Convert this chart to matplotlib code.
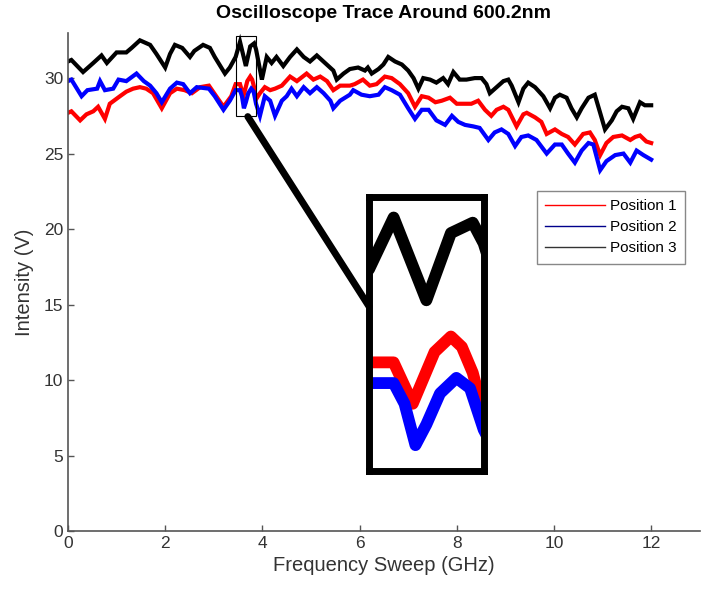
import matplotlib.pyplot as plt
from matplotlib.lines import Line2D
from matplotlib.patches import Rectangle, ConnectionPatch

plt.rcParams["font.family"] = ["Liberation Sans", "DejaVu Sans"]

# traces (GHz, V)
freq_1 = [0.0, 0.07, 0.25, 0.38, 0.52, 0.62, 0.76, 0.86, 1.07, 1.2, 1.34, 1.48, 1.61, 1.75,
          1.93, 2.1, 2.24, 2.4, 2.55, 2.72, 2.9, 3.05, 3.2, 3.36, 3.45, 3.54, 3.61, 3.69,
          3.75, 3.79, 3.83, 3.87, 3.95, 4.05, 4.16, 4.26, 4.4, 4.57, 4.71, 4.91, 5.05, 5.19,
          5.33, 5.46, 5.6, 5.8, 5.9, 6.07, 6.21, 6.35, 6.52, 6.66, 6.83, 7.0, 7.14, 7.28,
          7.42, 7.56, 7.69, 7.86, 8.0, 8.17, 8.3, 8.44, 8.58, 8.71, 8.82, 8.96, 9.06, 9.23,
          9.37, 9.44, 9.61, 9.74, 9.85, 10.02, 10.16, 10.29, 10.43, 10.6, 10.74, 10.84,
          10.95, 11.08, 11.22, 11.4, 11.57, 11.67, 11.77, 11.9, 12.0]
pos_1 = [27.7, 27.8, 27.2, 27.6, 27.8, 28.1, 27.3, 28.3, 28.8, 29.1, 29.3, 29.4, 29.3, 29.0,
         28.0, 29.0, 29.3, 29.2, 29.0, 29.4, 29.5, 28.8, 28.1, 28.8, 29.6, 29.6, 28.8, 29.8,
         30.1, 29.9, 29.4, 28.6, 29.0, 29.4, 29.2, 29.3, 29.5, 30.1, 29.8, 30.3, 29.9, 30.1,
         29.8, 29.2, 29.5, 29.5, 29.6, 29.9, 29.5, 29.6, 30.1, 30.0, 29.6, 29.0, 28.1, 28.8,
         28.7, 28.4, 28.5, 28.7, 28.3, 28.3, 28.3, 28.5, 27.9, 27.5, 27.9, 28.1, 27.9, 26.8,
         27.6, 27.7, 27.4, 27.1, 26.3, 26.6, 26.3, 26.1, 25.6, 26.3, 26.4, 25.9,
         24.9, 25.7, 26.1, 26.2, 25.9, 26.1, 26.2, 25.8, 25.7]

freq_2 = [0.0, 0.07, 0.28, 0.4, 0.6, 0.66, 0.76, 0.93, 1.04, 1.2, 1.41, 1.56, 1.69, 1.82,
          1.93, 2.1, 2.24, 2.37, 2.51, 2.65, 2.9, 3.02, 3.2, 3.33, 3.45, 3.54, 3.58, 3.62,
          3.66, 3.71, 3.77, 3.82, 3.87, 3.95, 4.05, 4.16, 4.26, 4.4, 4.5, 4.6, 4.71, 4.85,
          4.98, 5.12, 5.26, 5.4, 5.46, 5.6, 5.8, 5.87, 6.04, 6.21, 6.39, 6.52, 6.66, 6.83,
          7.0, 7.14, 7.28, 7.42, 7.58, 7.76, 7.9, 8.03, 8.17, 8.34, 8.47, 8.65, 8.78, 8.92,
          9.06, 9.2, 9.33, 9.47, 9.64, 9.85, 10.02, 10.16, 10.29, 10.43, 10.57, 10.71,
          10.81, 10.95, 11.08, 11.26, 11.43, 11.57, 11.7, 11.84, 12.0]
pos_2 = [29.8, 29.9, 28.8, 29.2, 29.3, 29.8, 29.2, 29.3, 29.9, 29.8, 30.3, 29.8, 29.5, 29.0,
         28.4, 29.3, 29.7, 29.6, 29.0, 29.4, 29.3, 28.8, 27.9, 28.5, 29.2, 29.2, 28.8, 28.0,
         28.4, 29.0, 29.3, 29.1, 28.3, 27.5, 28.8, 28.5, 27.5, 28.5, 28.8, 29.3, 28.8, 29.4,
         29.0, 29.4, 29.0, 28.5, 28.0, 28.5, 28.9, 29.2, 28.9, 28.8, 28.9, 29.4, 29.2, 28.9,
         28.0, 27.3, 27.9, 27.9, 27.2, 26.9, 27.5, 27.1, 26.9, 26.8, 26.7, 25.9, 26.4, 26.6,
         26.3, 25.5, 26.1, 26.2, 25.9, 25.0, 25.6, 25.6, 25.0, 24.4, 25.2, 25.7,
         25.6, 23.9, 24.5, 24.9, 25.0, 24.4, 25.2, 24.9, 24.6]

freq_3 = [0.0, 0.07, 0.31, 0.52, 0.69, 0.8, 1.0, 1.2, 1.31, 1.48, 1.69, 1.82, 2.0, 2.1, 2.2,
          2.35, 2.51, 2.6, 2.78, 2.92, 3.02, 3.23, 3.33, 3.45, 3.54, 3.66, 3.75, 3.83, 3.87,
          3.99, 4.09, 4.19, 4.29, 4.43, 4.57, 4.71, 4.85, 4.98, 5.12, 5.29, 5.46, 5.53, 5.67,
          5.8, 5.97, 6.11, 6.17, 6.25, 6.39, 6.49, 6.59, 6.73, 6.87, 7.0, 7.11, 7.21, 7.31,
          7.45, 7.58, 7.72, 7.82, 7.93, 8.06, 8.2, 8.37, 8.51, 8.61, 8.68, 8.82, 8.96, 9.06,
          9.13, 9.27, 9.37, 9.47, 9.61, 9.78, 9.92, 10.02, 10.12, 10.26, 10.36, 10.47, 10.57,
          10.71, 10.84, 10.95, 11.05, 11.19, 11.29, 11.4, 11.53, 11.63, 11.77, 11.87, 12.0]
pos_3 = [31.1, 31.2, 30.4, 31.0, 31.5, 31.0, 31.7, 31.7, 32.0, 32.5, 32.2, 31.6, 30.7, 31.6, 32.2,
         32.0, 31.4, 31.8, 32.2, 32.0, 31.4, 30.3, 30.7, 31.4, 32.4, 30.8, 32.1, 32.3, 31.9,
         29.9, 31.4, 31.0, 31.4, 30.8, 31.4, 31.9, 31.4, 31.1, 31.5, 31.0, 30.5, 29.9, 30.3,
         30.6, 30.7, 30.5, 30.7, 30.3, 30.6, 30.9, 31.4, 31.1, 30.9, 30.5, 30.0, 29.3, 30.0,
         29.9, 29.7, 30.0, 29.6, 30.4, 29.9, 29.9, 30.0, 30.0, 29.6, 29.0, 29.4, 29.8, 29.9,
         29.5, 28.4, 29.3, 29.7, 29.4, 28.8, 28.0, 28.7, 28.9, 28.7, 28.0, 27.4, 28.0,
         28.7, 28.9, 27.7, 26.6, 27.2, 27.8, 28.1, 28.0, 27.3, 28.4, 28.2, 28.2]

labels = ["Position 1", "Position 2", "Position 3"]
colors = ["#ff0000", "#0000ff", "#000000"]

zoom_x = (3.45, 3.87)
zoom_y = (27.5, 32.8)

series = [(freq_1, pos_1), (freq_2, pos_2), (freq_3, pos_3)]

fig = plt.figure(figsize=(7.03, 5.91), dpi=100)
ax = fig.add_axes([0.0967, 0.1015, 0.8987, 0.843])

for (f, v), c in zip(series, colors):
    ax.plot(f, v, color=c, lw=3.0, solid_joinstyle="miter")

ax.set_xlim(0, 13)
ax.set_ylim(0, 33)
ax.set_xticks(range(0, 13, 2))
ax.set_yticks(range(0, 31, 5))
for s in ("top", "right"):
    ax.spines[s].set_visible(False)
for s in ("left", "bottom"):
    ax.spines[s].set_color("#555555")
    ax.spines[s].set_linewidth(1.2)
ax.tick_params(direction="in", length=4, width=1, colors="#555555",
               labelcolor="#333333", labelsize=12.5)
ax.set_xlabel("Frequency Sweep (GHz)", fontsize=14.5, color="#333333", labelpad=4)
ax.set_ylabel("Intensity (V)", fontsize=14.5, color="#333333", labelpad=7)
ax.set_title("Oscilloscope Trace Around 600.2nm", fontsize=14, fontweight="bold", pad=11)

ax.add_patch(Rectangle((zoom_x[0], zoom_y[0]), zoom_x[1] - zoom_x[0], zoom_y[1] - zoom_y[0],
                       fill=False, ec="black", lw=0.8, zorder=5))

handles = [Line2D([], [], color=c, lw=1) for c in ["#ff0000", "#00008b", "#333333"]]
leg = ax.legend(handles, labels, loc="upper left", bbox_to_anchor=(537 / 703, 1 - 191 / 591),
                bbox_transform=fig.transFigure, borderaxespad=0, fontsize=11,
                handlelength=3.9, labelspacing=0.45, fancybox=False, framealpha=1,
                borderpad=0.55, handletextpad=0.3)
leg.get_frame().set_edgecolor("#888888")
leg.get_frame().set_linewidth(1)

# magnified view
axins = fig.add_axes([0.525, 0.203, 0.163, 0.464])
for (f, v), c in zip(series, colors):
    axins.plot(f, v, color=c, lw=8.5)
axins.set_xlim(*zoom_x)
axins.set_ylim(*zoom_y)
axins.set_xticks([])
axins.set_yticks([])
for s in axins.spines.values():
    s.set_linewidth(5)
    s.set_color("black")

con = ConnectionPatch(xyA=(3.70, 27.45), coordsA="data", axesA=ax,
                      xyB=(0.0, 0.6), coordsB="axes fraction", axesB=axins,
                      color="black", lw=5)
fig.add_artist(con)

fig.savefig("out.png", dpi=100)
